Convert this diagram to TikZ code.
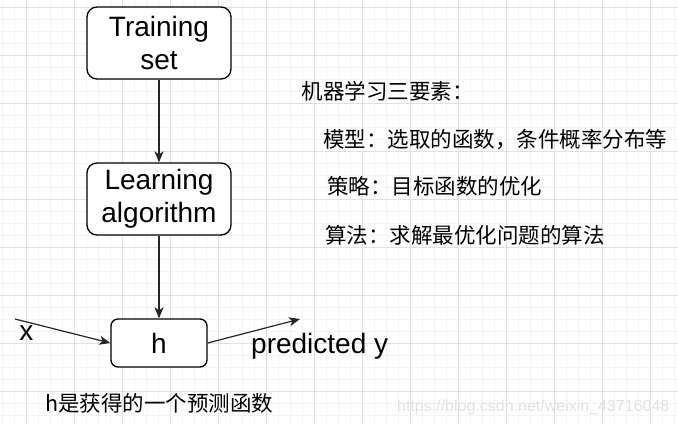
\documentclass[tikz,border=0pt]{standalone}
\usepackage{fontspec}
\setmainfont{Liberation Sans}
\newfontfamily\cjk{Noto Sans CJK SC}
\usetikzlibrary{arrows.meta}
\definecolor{gridmajor}{HTML}{E0E0E0}
\definecolor{gridminor}{HTML}{F4F4F4}
\definecolor{wm}{HTML}{E2E2E2}
\tikzset{
  box/.style={draw=black, line width=1.3pt, fill=white, inner sep=0pt, align=center,
              font=\fontsize{28}{32.5}\selectfont},
  conn/.style={draw=black!85, line width=1.2pt, -{Stealth[length=11pt,width=9pt,inset=3pt]}},
  lab/.style={inner sep=0pt, font=\fontsize{28}{32}\selectfont},
  cn/.style={inner sep=0pt, anchor=base west, font=\cjk\fontsize{21.5}{24}\selectfont},
  wmark/.style={inner sep=0pt, anchor=base west, text=wm, font=\fontsize{16}{18}\selectfont}
}
\begin{document}
\begin{tikzpicture}[x=1pt,y=-1pt]
\useasboundingbox (0,0) rectangle (678,424);
\fill[white] (0,0) rectangle (678,424);
% minor grid
\foreach \gx in {2,14,...,678} \draw[gridminor, line width=0.8pt] (\gx,0) -- (\gx,424);
\foreach \gy in {7,19,...,424} \draw[gridminor, line width=0.8pt] (0,\gy) -- (678,\gy);
% major grid
\foreach \gx in {26,74,...,678} \draw[gridmajor, line width=1pt] (\gx,0) -- (\gx,424);
\foreach \gy in {7,55,...,424} \draw[gridmajor, line width=1pt] (0,\gy) -- (678,\gy);

% boxes
\node[box, rounded corners=10pt, minimum width=144pt, minimum height=72pt] (train) at (159,43) {Training\\set};
\node[box, rounded corners=10pt, minimum width=144pt, minimum height=72pt] (learn) at (159,199) {Learning\\algorithm};
\node[box, rounded corners=7pt, minimum width=96pt, minimum height=48pt] (h) at (159,343) {h};

% connectors
\draw[conn] (train) -- (learn);
\draw[conn] (learn) -- (h);
\coordinate (xin) at (15,319);
\coordinate (yout) at (300,319);
\draw[conn] (xin) -- (h.west);
\draw[conn] (h.east) -- (yout);

% labels
\node[lab] (xl) at (26.5,333) {x};
\node[lab, anchor=base west] (yl) at (251,353) {predicted y};

% Chinese text
\node[cn] (t1) at (301.5,99.9) {机器学习三要素：};
\node[cn] (t2) at (323,147.2) {模型：选取的函数，条件概率分布等};
\node[cn] (t3) at (327,194.9) {策略：目标函数的优化};
\node[cn] (t4) at (325,243.2) {算法：求解最优化问题的算法};
\node[cn] (t5) at (45,411) {h是获得的一个预测函数};

% watermark
\node[wmark] (wmk) at (397,411) {https://blog.csdn.net/weixin\_43716048};
\end{tikzpicture}
\end{document}
